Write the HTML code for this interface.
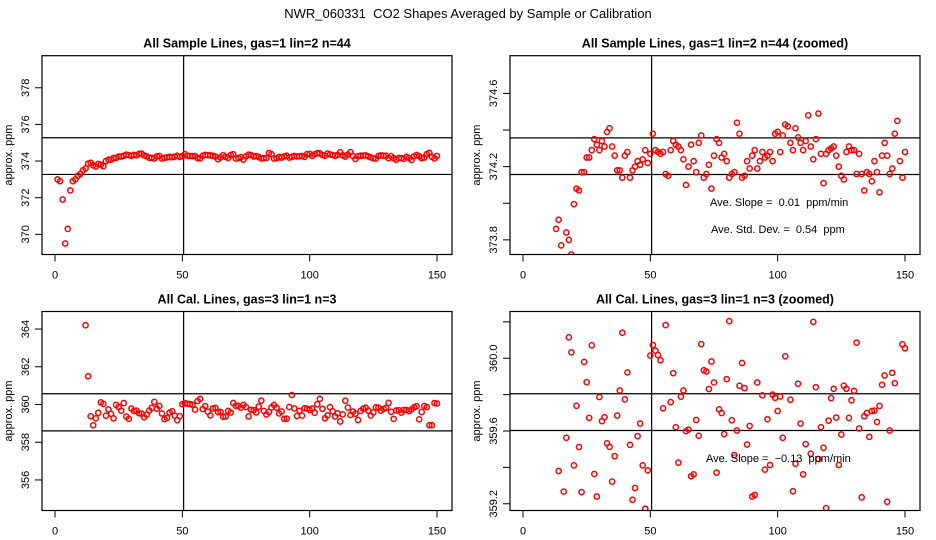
<!DOCTYPE html>
<html><head><meta charset="utf-8"><style>
html,body{margin:0;padding:0;background:#fff;width:936px;height:540px;overflow:hidden;}
svg{display:block;font-family:"Liberation Sans",sans-serif;}
svg text{white-space:pre;}
</style></head><body>
<svg id="chart" width="936" height="540" viewBox="0 0 936 540" xmlns="http://www.w3.org/2000/svg" xml:space="preserve">
<rect width="936" height="540" fill="#fff"/>
<text x="468" y="18" text-anchor="middle" font-size="13">NWR_060331  CO2 Shapes Averaged by Sample or Calibration</text>
</svg>
<script>
const sampleX = [];
for (let i = 1; i <= 150; i++) sampleX.push(i);
const sampleValues = [373.0,372.9,371.9,369.5,370.3,372.4,372.9,373.0,373.2,373.3,373.5,373.6,373.86,373.91,373.77,373.70,373.84,373.80,373.72,373.995,
374.08,374.07,374.17,374.17,374.25,374.25,374.29,374.35,374.32,374.29,374.34,374.31,374.39,374.41,374.31,374.26,374.18,374.18,374.14,374.26,
374.28,374.14,374.18,374.20,374.23,374.21,374.24,374.29,374.22,374.27,374.38,374.29,374.28,374.27,374.28,374.16,374.15,374.29,374.34,374.32,
374.31,374.29,374.24,374.10,374.20,374.32,374.23,374.17,374.33,374.37,374.14,374.16,374.21,374.08,374.26,374.35,374.33,374.25,374.27,374.23,
374.14,374.16,374.17,374.44,374.38,374.14,374.15,374.23,374.19,374.26,374.29,374.19,374.23,374.28,374.25,374.26,374.28,374.23,374.38,374.39,
374.28,374.37,374.43,374.42,374.33,374.29,374.41,374.36,374.33,374.29,374.34,374.48,374.31,374.24,374.35,374.49,374.27,374.11,374.27,374.29,
374.30,374.31,374.26,374.20,374.15,374.13,374.28,374.31,374.29,374.29,374.16,374.27,374.16,374.07,374.17,374.16,374.12,374.23,374.17,374.06,
374.26,374.33,374.26,374.16,374.19,374.38,374.45,374.23,374.14,374.28];
const calValues = [null,null,null,null,null,null,null,null,null,null,null,364.2,361.5,359.380,358.9,359.267,359.563,360.115,360.033,359.411,
359.739,359.512,359.264,359.980,359.869,359.672,360.071,359.364,359.240,359.787,359.654,359.676,359.533,359.513,359.322,359.462,359.685,359.823,360.140,359.774,
359.922,359.524,359.222,359.287,359.572,359.641,359.411,359.173,359.384,360.015,360.073,360.042,360.018,359.989,359.725,360.182,360.3,359.759,359.918,359.621,
359.426,359.789,359.823,359.599,359.608,359.351,359.362,359.661,359.574,360.078,359.934,359.927,359.831,359.982,359.867,359.371,359.719,359.699,359.583,359.885,
360.204,359.659,359.468,359.603,359.849,359.974,359.836,359.526,359.628,359.240,359.249,359.867,360.5,359.796,359.388,359.665,359.413,359.800,359.783,359.710,
359.790,359.563,360.011,360.3,359.772,359.269,359.420,359.860,359.641,359.362,359.528,359.1,359.475,360.200,359.841,359.446,359.621,359.508,359.176,359.657,
359.781,359.832,359.674,359.413,359.581,359.849,359.832,359.672,359.769,359.821,360.086,359.614,359.235,359.681,359.699,359.568,359.710,359.712,359.650,359.738,
359.854,359.905,359.211,359.603,359.920,359.863,358.9,358.9,360.077,360.055];
const xTicks = [0,50,100,150];
const p1Ticks = [370,372,374,376,378];
const p2Ticks = [373.8,374.0,374.2,374.4,374.6];
const p2Labels = ["373.8","","374.2","","374.6"];
const p3Ticks = [356,358,360,362,364];
const p4Ticks = [359.2,359.4,359.6,359.8,360.0,360.2];
const p4Labels = ["359.2","","359.6","","360.0",""];
const refLinesTop = [375.27,373.27];
const refLinesTopZoom = [374.357,374.157];
const refLinesBot = [360.57,358.6];
const refLinesBotZoom = [359.805,359.603];

const NS = "http://www.w3.org/2000/svg";
const svg = document.getElementById('chart');
function mk(tag, attrs, parent) {
  const e = document.createElementNS(NS, tag);
  for (const k in attrs) e.setAttribute(k, attrs[k]);
  (parent || svg).appendChild(e);
  return e;
}
function panel(cfg) {
  const g = mk('g', {});
  
  
  const L = cfg.left, R = cfg.right, T = cfg.top, B = cfg.bottom;
  const xs = v => cfg.x0px + v * (cfg.x150px - cfg.x0px) / 150;
  const ys = v => B - (v - cfg.ymin) / (cfg.ymax - cfg.ymin) * (B - T);
  const t = mk('text', {x: (L + R) / 2, y: T - 8, 'text-anchor': 'middle', 'font-size': 12.5, 'font-weight': 'bold'}, g);
  t.textContent = cfg.title;
  
  
  const cid = 'clip-' + cfg.name;
  const cp = mk('clipPath', {id: cid}, g);
  mk('rect', {x: L, y: T, width: R - L, height: B - T}, cp);
  cfg.refs.forEach(v => {
    const l = mk('line', {x1: L, x2: R, y1: ys(v), y2: ys(v), stroke: '#000', 'stroke-width': 1.2}, g);
    
    
  });
  const vl = mk('line', {x1: xs(50.5), x2: xs(50.5), y1: T, y2: B, stroke: '#000', 'stroke-width': 1.2}, g);
  
  
  const pg = mk('g', {'clip-path': 'url(#' + cid + ')'}, g);
  cfg.values.forEach((v, i) => {
    if (v === null) return;
    const cy = ys(v);
    if (cy < T - 3 || cy > B + 3) return;
    const c = mk('circle', {cx: xs(sampleX[i]), cy: cy, r: 2.6, fill: 'none', stroke: '#f00', 'stroke-width': 1.5}, pg);
    
    
  });
  const bx = mk('rect', {x: L, y: T, width: R - L, height: B - T, fill: 'none', stroke: '#000', 'stroke-width': 1.2}, g);
  
  
  xTicks.forEach(v => {
    mk('line', {x1: xs(v), x2: xs(v), y1: B, y2: B + 7, stroke: '#000', 'stroke-width': 1}, g);
    const tl = mk('text', {x: xs(v), y: B + 24, 'text-anchor': 'middle', 'font-size': 11}, g);
    tl.textContent = v;
    
    
  });
  cfg.yticks.forEach((v, i) => {
    const y = ys(v);
    mk('line', {x1: L - 7, x2: L, y1: y, y2: y, stroke: '#000', 'stroke-width': 1}, g);
    const lab = cfg.ylabels ? cfg.ylabels[i] : String(v);
    if (lab) {
      const tl = mk('text', {x: L - 13, y: y, 'text-anchor': 'middle', 'font-size': 11, transform: 'rotate(-90 ' + (L - 13) + ' ' + y + ')'}, g);
      tl.textContent = lab;
      
      
    }
  });
  const yt = mk('text', {x: L - 30, y: (T + B) / 2, 'text-anchor': 'middle', 'font-size': 11, transform: 'rotate(-90 ' + (L - 30) + ' ' + (T + B) / 2 + ')'}, g);
  yt.textContent = 'approx. ppm';
  
  
  (cfg.notes || []).forEach(n => {
    const tn = mk('text', {x: n[0], y: n[1], 'font-size': 11}, g);
    tn.textContent = n[2];
    
    
  });
}
panel({name: 'sample-panel', title: 'All Sample Lines, gas=1 lin=2 n=44', left: 42, right: 452, top: 55.7, bottom: 254.5,
  x0px: 55, x150px: 437, ymin: 368.9, ymax: 379.75, values: sampleValues, yticks: p1Ticks, refs: refLinesTop});
panel({name: 'sample-zoom-panel', title: 'All Sample Lines, gas=1 lin=2 n=44 (zoomed)', left: 510, right: 920, top: 55.7, bottom: 254.5,
  x0px: 523, x150px: 905, ymin: 373.72, ymax: 374.806, values: sampleValues, yticks: p2Ticks, ylabels: p2Labels, refs: refLinesTopZoom,
  notes: [[710, 206, 'Ave. Slope =  0.01  ppm/min'], [711, 233, 'Ave. Std. Dev. =  0.54  ppm']]});
panel({name: 'cal-panel', title: 'All Cal. Lines, gas=3 lin=1 n=3', left: 42, right: 452, top: 311.5, bottom: 510.5,
  x0px: 55, x150px: 437, ymin: 354.38, ymax: 364.93, values: calValues, yticks: p3Ticks, refs: refLinesBot});
panel({name: 'cal-zoom-panel', title: 'All Cal. Lines, gas=3 lin=1 n=3 (zoomed)', left: 510, right: 920, top: 311.5, bottom: 510.5,
  x0px: 523, x150px: 905, ymin: 359.163, ymax: 360.257, values: calValues, yticks: p4Ticks, ylabels: p4Labels, refs: refLinesBotZoom,
  notes: [[706, 462, 'Ave. Slope =  \u22120.13  ppm/min']]});
</script>
</body></html>
